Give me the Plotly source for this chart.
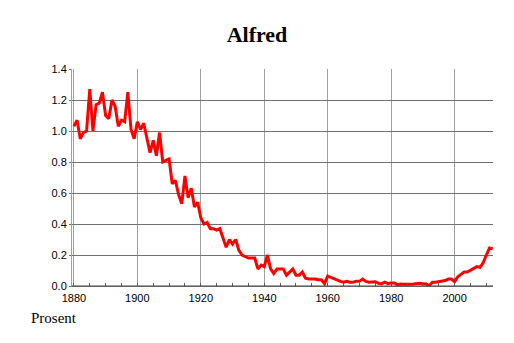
import plotly.graph_objects as go

years = list(range(1880, 2013))
values = [
    1.03, 1.07, 0.95, 0.99, 1.00, 1.27, 1.00, 1.17, 1.18, 1.25,  # 1880-1889
    1.10, 1.08, 1.20, 1.16, 1.03, 1.07, 1.06, 1.25, 1.01, 0.95,  # 1890-1899
    1.06, 1.01, 1.05, 0.95, 0.86, 0.94, 0.84, 0.99, 0.80, 0.81,  # 1900-1909
    0.82, 0.66, 0.68, 0.59, 0.53, 0.71, 0.57, 0.63, 0.51, 0.54,  # 1910-1919
    0.44, 0.40, 0.41, 0.37, 0.37, 0.36, 0.37, 0.31, 0.25, 0.30,  # 1920-1929
    0.27, 0.30, 0.23, 0.20, 0.19, 0.18, 0.18, 0.18, 0.11, 0.135,  # 1930-1939
    0.125, 0.20, 0.11, 0.08, 0.11, 0.11, 0.11, 0.07, 0.09, 0.11,  # 1940-1949
    0.07, 0.07, 0.09, 0.05, 0.045, 0.045, 0.045, 0.04, 0.04, 0.015,  # 1950-1959
    0.065, 0.055, 0.045, 0.035, 0.03, 0.025, 0.03, 0.025, 0.025, 0.03,  # 1960-1969
    0.03, 0.045, 0.03, 0.025, 0.028, 0.028, 0.017, 0.015, 0.025, 0.015,  # 1970-1979
    0.02, 0.02, 0.008, 0.013, 0.012, 0.01, 0.012, 0.013, 0.016, 0.017,  # 1980-1989
    0.015, 0.013, 0.002, 0.025, 0.025, 0.028, 0.035, 0.035, 0.045, 0.045,  # 1990-1999
    0.028, 0.06, 0.075, 0.09, 0.09, 0.10, 0.11, 0.125, 0.12, 0.15,  # 2000-2009
    0.20, 0.245, 0.24,  # 2010-2012
]
x_ticks = [1880, 1900, 1920, 1940, 1960, 1980, 2000]
y_ticks = [0.0, 0.2, 0.4, 0.6, 0.8, 1.0, 1.2, 1.4]

fig = go.Figure()
fig.add_trace(go.Scatter(x=years, y=values, mode="lines",
                         line=dict(color="#ff0000", width=3), hoverinfo="skip"))

fig.update_layout(
    width=514, height=343,
    margin=dict(l=72, r=21, t=69, b=57),
    paper_bgcolor="white", plot_bgcolor="white",
    showlegend=False,
    title=dict(text="<b>Alfred</b>", x=0.5, xanchor="center", y=1 - 34 / 343, yanchor="middle",
               font=dict(family="Liberation Serif", size=22, color="black")),
    font=dict(family="Liberation Sans", size=11, color="black"),
    annotations=[dict(text="Prosent", xref="paper", yref="paper",
                      x=(29 - 72) / 421, y=-(318 - 286) / 217, xanchor="left", yanchor="middle",
                      showarrow=False, font=dict(family="Liberation Serif", size=15, color="black"))],
)
fig.update_xaxes(range=[1879.4, 2012.1], tickvals=x_ticks, ticktext=[str(t) for t in x_ticks],
                 showgrid=True, gridcolor="#a0a0a0", gridwidth=1,
                 showline=True, linecolor="#808080", linewidth=1, mirror=False,
                 ticks="", zeroline=False, ticklabelstandoff=2,
                 tickfont=dict(family="Liberation Sans", size=11),
                 minor=dict(dtick=5, tick0=1880, ticks="inside", ticklen=3, tickcolor="#606060", showgrid=False))
fig.update_yaxes(range=[0, 1.4], tickvals=y_ticks, ticktext=[f"{v:.1f}" for v in y_ticks],
                 showgrid=True, gridcolor="#707070", gridwidth=1,
                 showline=True, linecolor="#a0a0a0", linewidth=1,
                 ticks="outside", ticklen=2, tickcolor="#707070", zeroline=False,
                 tickfont=dict(family="Liberation Sans", size=11))
fig.add_shape(type="line", xref="paper", yref="paper", x0=0, x1=1, y0=0, y1=0,
              line=dict(color="#404040", width=1))

fig.write_html("out.html")
